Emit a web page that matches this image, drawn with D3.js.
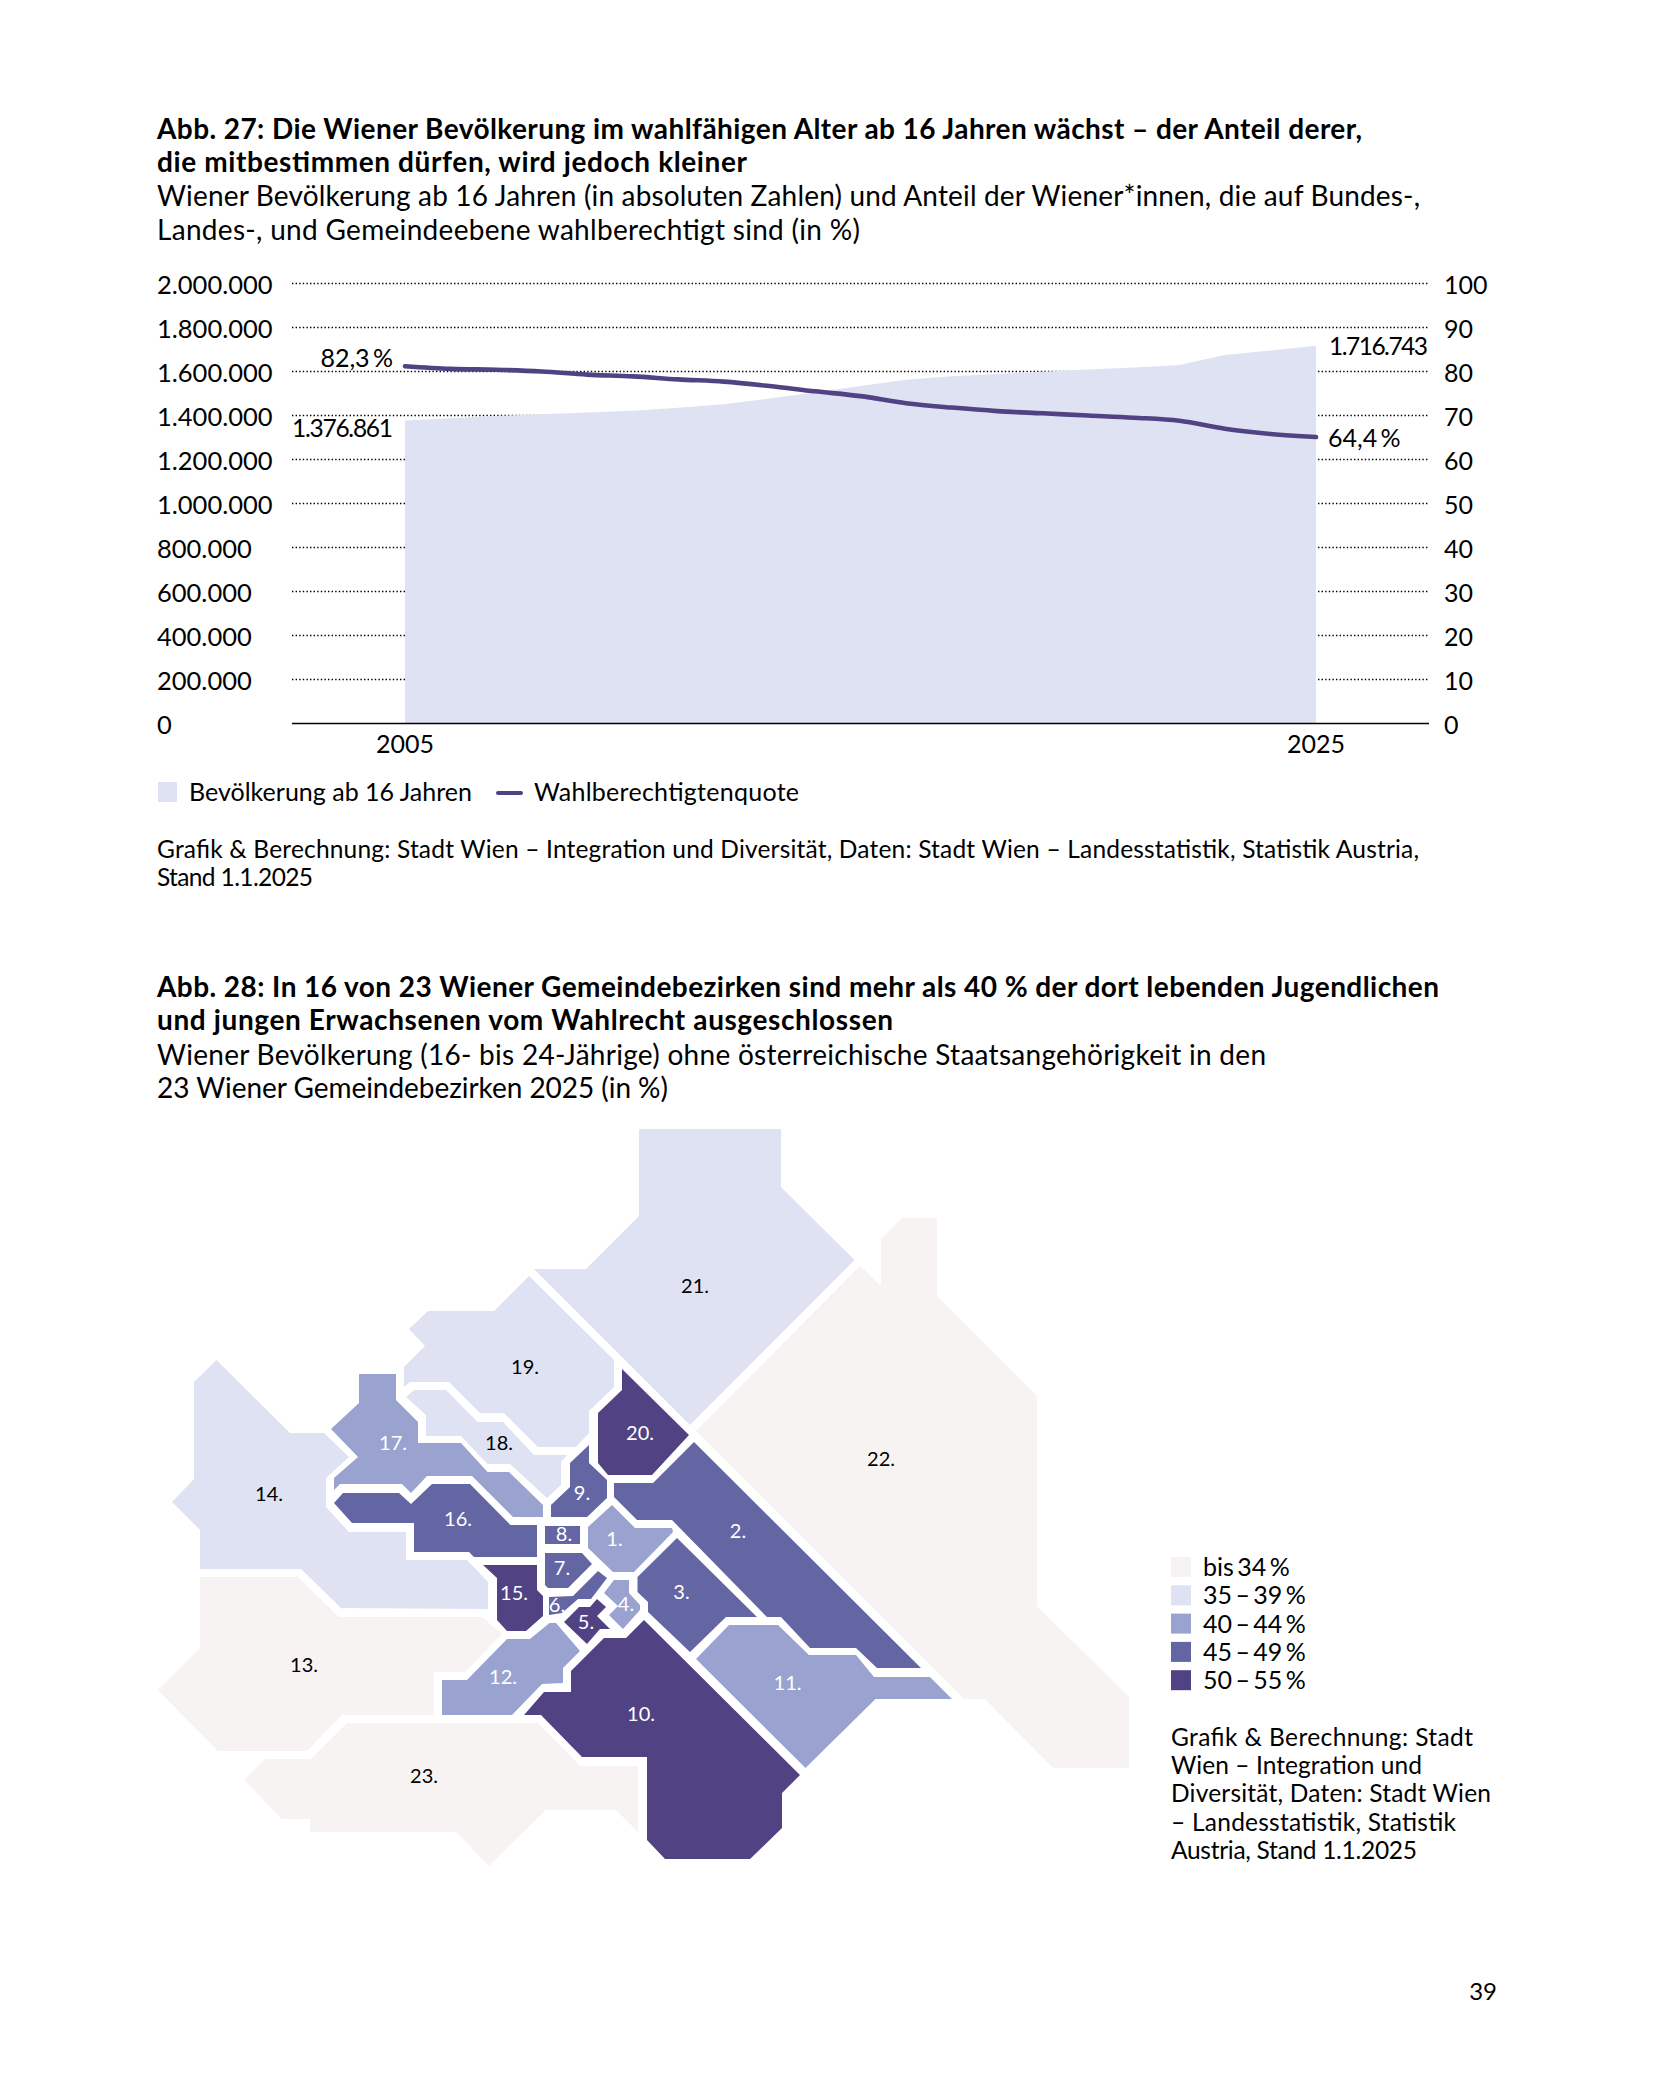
<!DOCTYPE html>
<html lang="de">
<head>
<meta charset="utf-8">
<title>Abb. 27 und 28</title>
<script src="https://cdn.jsdelivr.net/npm/d3@7"></script>
<style>
  html, body { margin: 0; padding: 0; background: #fff; }
  svg { display: block; }
  text { font-family: Lato, "Open Sans", sans-serif; fill: #000; }
</style>
</head>
<body>
<div id="page"></div>
<script>
// data abb. 27
const years = d3.range(2005, 2026);
const population = [1376861, 1388000, 1398000, 1406000, 1414000, 1422000, 1435000, 1451000, 1477000, 1505000, 1534000,
  1562000, 1578000, 1589000, 1599000, 1609000, 1618000, 1630000, 1675000, 1695000, 1716743];
const quota = [81.2, 80.6, 80.4, 80.0, 79.3, 78.9, 78.2, 77.7, 76.7, 75.5, 74.4, 72.8, 71.8, 71.0, 70.5, 70.0, 69.5, 68.8, 67.0, 65.8, 65.1];
const popTicks = d3.range(0, 2000001, 200000);
const quotaTicks = d3.range(0, 101, 10);
const yearTicks = [2005, 2025];

// data abb. 28, shapes are the schematic map in map units
const districts = d3.range(1, 24);
const districtClass = [2, 3, 3, 2, 4, 3, 3, 3, 3, 4, 2, 2, 0, 1, 4, 3, 2, 1, 1, 4, 1, 0, 0];
const classLabels = ["bis 34 %", "35 – 39 %", "40 – 44 %", "45 – 49 %", "50 – 55 %"];
const classColors = ["#f6f3f2", "#dfe2f2", "#9aa3d0", "#6366a3", "#514283"];
const shapes = {
  1: [[462,385],[485,408],[522,408],[523,412],[484,452],[463,452],[438,428],[438,407]],
  2: [[544,322],[771,548],[727,548],[706,528],[660,528],[631,497],[617,497],[522,400],[487,400],[464,377],[464,363],[503,363]],
  3: [[527,418],[607,497],[576,497],[540,532],[498,492],[498,482],[487.5,472],[487.5,457]],
  4: [[464,460],[479,460],[479,473],[490,485],[490,490],[473,509],[459,495],[468,486],[454,473]],
  5: [[447,479],[456,487],[447,496],[460,509],[450,509],[437,524],[414,502],[429,487],[440,487]],
  6: [[399,477],[423,476],[448,451],[457,458],[441,479],[428,479],[412,493],[399,495]],
  7: [[395,433],[432,433],[442,444],[418,468],[398,468],[395,465]],
  8: [[395,406],[430,406],[430,424],[395,424]],
  9: [[439,325],[439,343],[457,360],[457,378],[437,397],[401,397],[401,385],[420,367],[420,343]],
  10: [[494,500],[650,655],[632,673],[632,708],[600,739],[515,739],[497,720],[497,637],[432,637],[391,595],[374,595],[394,572],[421,572],[421,551],[454,518],[476,518]],
  11: [[579,505],[628,505],[659,535],[706,535],[724,557],[780,557],[802,579],[725.5,579],[655.5,648],[546,539]],
  12: [[399.5,503],[406,503],[430,531],[413,548],[413,563],[392,564],[362,595],[292,595],[292,560],[317,560],[357,519],[380,519]],
  13: [[50,457],[148,457],[189,497],[332,497],[352,514],[315,552],[283.5,552],[283.5,595],[192,595],[157,631],[68,631],[8,570],[50,528]],
  14: [[66.5,240],[140,313],[174,313],[199,337],[176,358],[176,387],[199,412],[256,412],[256,440],[317,440],[338,462],[338,489],[191,488],[151,449],[50,449],[50,410],[22,382],[44,359],[44,262]],
  15: [[333,445],[387,445],[387,470],[393,476],[393,496],[376,511],[357,511],[347,500],[347,458]],
  16: [[184,383],[193,373],[249,373],[261,384],[282,364],[320,364],[360.5,405],[387,405],[387,437],[324,437],[319,432],[264,432],[264,403],[202,403]],
  17: [[209,254],[246,254],[246,280],[268,302],[268,323],[311,323],[337.5,352],[359,352],[393,385],[393,397],[363,397],[322,356],[277,356],[261,373],[252,364],[190,364],[184,370],[184,358],[208,337],[181,309],[209,283]],
  18: [[264,270],[296,270],[327.5,302],[353,302],[384,335],[417,335],[411,342],[411,365],[397,378],[360,344],[337.5,344],[311,316],[276,316],[276,295],[256,277]],
  19: [[379,156],[464,240],[464,267],[439,291],[439,313],[426,327],[388,327],[354,293],[330,293],[299,262],[260,262],[254,267],[254,247],[275,226],[259,209],[278,191],[344,191]],
  20: [[472,249],[539,315],[502,355],[458,355],[448,343],[448,293],[472,270]],
  21: [[489,9],[631,9],[631,67],[704.5,140],[540,305],[384,149],[436,149],[489,96]],
  22: [[710,146],[731,166],[731,119],[752,98],[787,98],[787,176],[887,276],[887,486],[979,577],[979,648],[903,648],[835,579],[814,579],[546,311]],
  23: [[197,603],[388,603],[430,646],[488,646],[488,712],[466,690],[396,690],[339,746],[306,712],[160,712],[160,699],[132,699],[94,660],[115,639],[161,639]]
};
const labelAt = {
  1: [464.5,419], 2: [588,411], 3: [531.5,472], 4: [476,484], 5: [436,502], 6: [407,485], 7: [412,448], 8: [414,414],
  9: [432,373], 10: [491,594], 11: [637.5,563], 12: [353,557], 13: [154,545], 14: [119,374], 15: [364,473], 16: [308,399],
  17: [243,323], 18: [349,323], 19: [375,247], 20: [490,313], 21: [545,166], 22: [731,339], 23: [274,656]
};

const svg = d3.select("#page").append("svg").attr("width", 1654).attr("height", 2087);

// lines are [text, width on the page], the width keeps the long lines as wide as in the print
function textLines(lines, x, y0, step, size, weight) {
  lines.forEach((l, i) => {
    svg.append("text").attr("x", x).attr("y", y0 + i * step)
      .attr("textLength", l[1]).attr("lengthAdjust", "spacing")
      .style("font-size", size + "px").style("font-weight", weight || 400).text(l[0]);
  });
}

// --- abb. 27 ---
textLines([["Abb. 27: Die Wiener Bevölkerung im wahlfähigen Alter ab 16 Jahren wächst – der Anteil derer,", 1205],
  ["die mitbestimmen dürfen, wird jedoch kleiner", 590]], 157, 138.5, 33.5, 28, 700);
textLines([["Wiener Bevölkerung ab 16 Jahren (in absoluten Zahlen) und Anteil der Wiener*innen, die auf Bundes-,", 1263],
  ["Landes-, und Gemeindeebene wahlberechtigt sind (in %)", 703]], 157, 205.5, 34, 28);

const x = d3.scaleLinear().domain([2005, 2025]).range([405, 1316]);
const yPop = d3.scaleLinear().domain([0, 2000000]).range([723.5, 283.5]);
const yQuota = d3.scaleLinear().domain([0, 100]).range([723.5, 283.5]);
const deFormat = d3.formatLocale({decimal: ",", thousands: ".", grouping: [3], currency: ["", ""]}).format(",");

// grid goes under the area
svg.append("g").selectAll("line").data(popTicks.slice(1)).join("line")
  .attr("x1", 292).attr("x2", 1429)
  .attr("y1", d => yPop(d)).attr("y2", d => yPop(d))
  .attr("stroke", "#000").attr("stroke-width", 1.3).attr("stroke-dasharray", "1.4 2.2");

svg.append("path").datum(years)
  .attr("fill", classColors[1])
  .attr("d", d3.area().x(d => x(d)).y0(yPop(0)).y1((d, i) => yPop(population[i])));

svg.append("line").attr("x1", 292).attr("x2", 1429).attr("y1", yPop(0)).attr("y2", yPop(0))
  .attr("stroke", "#000").attr("stroke-width", 1.4);

svg.append("path").datum(years)
  .attr("fill", "none").attr("stroke", classColors[4]).attr("stroke-width", 4.6).attr("stroke-linecap", "round")
  .attr("d", d3.line().x(d => x(d)).y((d, i) => yQuota(quota[i])).curve(d3.curveMonotoneX));

const tickFont = "25.5px";
svg.append("g").selectAll("text").data(popTicks).join("text")
  .attr("x", 157).attr("y", d => yPop(d) + 10.7).style("font-size", tickFont)
  .text(d => deFormat(d));
svg.append("g").selectAll("text").data(quotaTicks).join("text")
  .attr("x", 1448).attr("y", d => yQuota(d) + 10.7).attr("dx", -4).style("font-size", "25px")
  .text(d => d);
svg.append("g").selectAll("text").data(yearTicks).join("text")
  .attr("x", d => x(d)).attr("y", 753).attr("text-anchor", "middle").style("font-size", "25px")
  .text(d => d);

// end labels
svg.append("text").attr("x", 393).attr("y", 437).attr("text-anchor", "end").attr("textLength", 101)
  .style("font-size", "24.5px").text(deFormat(population[0]));
svg.append("text").attr("x", 393).attr("y", 367).attr("text-anchor", "end")
  .style("font-size", "25px").style("word-spacing", "-3px").text("82,3 %");
svg.append("text").attr("x", 1329).attr("y", 355).attr("textLength", 99)
  .style("font-size", "24.5px").text(deFormat(population[20]));
svg.append("text").attr("x", 1328).attr("y", 447)
  .style("font-size", "25px").style("word-spacing", "-3px").text("64,4 %");

// legend
svg.append("rect").attr("x", 158).attr("y", 782).attr("width", 19).attr("height", 20).attr("fill", classColors[1]);
svg.append("text").attr("x", 189).attr("y", 801).attr("textLength", 283).style("font-size", "25px").text("Bevölkerung ab 16 Jahren");
svg.append("line").attr("x1", 498).attr("x2", 521).attr("y1", 793).attr("y2", 793)
  .attr("stroke", classColors[4]).attr("stroke-width", 4).attr("stroke-linecap", "round");
svg.append("text").attr("x", 534).attr("y", 801).attr("textLength", 265).style("font-size", "25px").text("Wahlberechtigtenquote");

textLines([["Grafik & Berechnung: Stadt Wien – Integration und Diversität, Daten: Stadt Wien – Landesstatistik, Statistik Austria,", 1262],
  ["Stand 1.1.2025", 156]], 157, 858, 28, 24.5);

// --- abb. 28 ---
textLines([["Abb. 28: In 16 von 23 Wiener Gemeindebezirken sind mehr als 40 % der dort lebenden Jugendlichen", 1282],
  ["und jungen Erwachsenen vom Wahlrecht ausgeschlossen", 736]], 157, 997, 33.3, 28, 700);
textLines([["Wiener Bevölkerung (16- bis 24-Jährige) ohne österreichische Staatsangehörigkeit in den", 1109],
  ["23 Wiener Gemeindebezirken 2025 (in %)", 511]], 157, 1064.5, 33.5, 28);

const mapX = d3.scaleLinear().domain([0, 1000]).range([150, 1150]);
const mapY = d3.scaleLinear().domain([0, 1000]).range([1120, 2120]);
const outline = d3.line().x(d => mapX(d[0])).y(d => mapY(d[1])).curve(d3.curveLinearClosed);

svg.append("g").selectAll("path").data(districts).join("path")
  .attr("fill", d => classColors[districtClass[d - 1]])
  .attr("d", d => outline(shapes[d]));

svg.append("g").selectAll("text").data(districts).join("text")
  .attr("x", d => mapX(labelAt[d][0])).attr("y", d => mapY(labelAt[d][1]) + 7)
  .attr("text-anchor", "middle").style("font-size", "20px")
  .style("fill", d => districtClass[d - 1] >= 2 ? "#fff" : "#000")
  .text(d => d + ".");

// map legend
const legend = svg.append("g").selectAll("g").data(classLabels).join("g");
legend.append("rect").attr("x", 1171).attr("y", (d, i) => 1557 + i * 28.3)
  .attr("width", 20).attr("height", 20).attr("fill", (d, i) => classColors[i]);
legend.append("text").attr("x", 1203).attr("y", (d, i) => 1576 + i * 28.3)
  .style("font-size", "25px").style("word-spacing", "-3px").text(d => d);

textLines([["Grafik & Berechnung: Stadt", 302], ["Wien – Integration und", 251], ["Diversität, Daten: Stadt Wien", 320],
  ["– Landesstatistik, Statistik", 285], ["Austria, Stand 1.1.2025", 246]], 1171, 1746, 28.2, 24.5);

svg.append("text").attr("x", 1497).attr("y", 2000).attr("text-anchor", "end").style("font-size", "24px").text("39");
</script>
</body>
</html>
